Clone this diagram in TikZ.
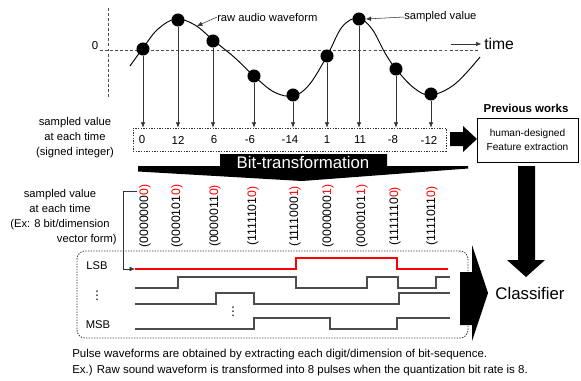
\documentclass[tikz,border=0pt]{standalone}
\usepackage{fontspec}
\setmainfont{Liberation Sans}
\newfontfamily\dejavu{DejaVu Sans}
\usetikzlibrary{arrows.meta,fit}
\begin{document}
\begin{tikzpicture}[x=0.75pt,y=-0.75pt,
  dot/.style={circle,fill=black,inner sep=0pt,minimum size=9.8pt},
  lbl/.style={font=\fontsize{8.4}{11.2}\selectfont},
  num/.style={font=\fontsize{8.6}{10}\selectfont},
  bin/.style={rotate=90,font=\fontsize{9.2}{10}\selectfont,inner sep=0pt},
  arr/.style={draw=black!80,-{Latex[length=4pt,width=3.4pt]}},
  axis/.style={draw=black!70,dash pattern=on 2.2pt off 1.6pt,line width=0.6pt},
  pulse/.style={draw=black!70,line width=0.8pt},
  redpulse/.style={draw=red,line width=0.9pt},
  dbox/.style={draw=black!80,dash pattern=on 1pt off 1pt,line width=0.6pt,inner sep=0pt},
  vd/.style={inner sep=0pt,font=\dejavu\fontsize{9}{10}\selectfont},
]
\useasboundingbox (0,0) rectangle (581,380);

% axes
\draw[axis] (100,50) -- (478,50);
\draw[axis] (108,8) -- (108,99);
\node[lbl,font=\fontsize{8.6}{10}\selectfont] (zero) at (95,46) {0};
\coordinate (tstart) at (451,44);
\node[anchor=west,inner sep=0pt,font=\fontsize{11.8}{13}\selectfont] (time) at (484,44) {time};
\draw[arr] (tstart) -- ([xshift=-2pt]time.west);

% waveform
\draw[line width=0.7pt] plot[smooth,tension=0.6] coordinates {(130,66) (143,48) (158,29) (176,19) (195,25) (213,40) (234,57) (254,76) (274,92) (293,96) (309,85) (327,56) (342,27) (358,18) (372,29) (385,53) (396,69) (414,88) (431,95) (455,84) (480,57)};

% dots
\node[dot] (d1) at (143,49) {};
\node[dot] (d2) at (178,20) {};
\node[dot] (d3) at (213,41) {};
\node[dot] (d4) at (254,76) {};
\node[dot] (d5) at (293,95) {};
\node[dot] (d6) at (327,56) {};
\node[dot] (d7) at (359,19) {};
\node[dot] (d8) at (396,69) {};
\node[dot] (d9) at (431,94) {};

% labels on waveform
\node[lbl,anchor=west,inner sep=0pt] (rawlbl) at (217,17) {raw audio waveform};
\coordinate (rawtip) at (197,26);
\draw[arr] (rawlbl.west) -- (rawtip);
\node[lbl,anchor=west,inner sep=0pt] (samplbl) at (404,17) {sampled value};
\draw[arr] (samplbl.west) -- (d7.east);

% value box
\node[dbox,fit={(133,128) (446,151)}] (valbox) {};
\node[num] (v1) at (142,140) {0};
\node[num] (v2) at (178,140) {12};
\node[num] (v3) at (214,140) {6};
\node[num] (v4) at (250,140) {-6};
\node[num] (v5) at (290,140) {-14};
\node[num] (v6) at (327,140) {1};
\node[num] (v7) at (360,140) {11};
\node[num] (v8) at (393,140) {-8};
\node[num] (v9) at (429,140) {-12};
\foreach \i in {1,...,9}{\draw[arr] (d\i.south) -- (d\i |- valbox.north);}

\node[lbl,align=center] (svlbl) at (75,138) {sampled value\\at each time\\(signed integer)};

% previous works
\node[font=\bfseries\fontsize{8.6}{10}\selectfont] (prevlbl) at (526,108) {Previous works};
\node[draw,line width=0.6pt,fit={(477,118) (578,162)},inner sep=0pt] (hbox) {};
\node[align=center,font=\fontsize{7.6}{10.5}\selectfont] (htext) at (hbox.center) {human-designed\\Feature extraction};
\fill (450,132) -- (463,132) -- (463,126) -- (477,139) -- (463,152) -- (463,146) -- (450,146) -- cycle;

% down arrow to classifier
\fill (518,166) -- (535,166) -- (535,260) -- (545,260) -- (526,277) -- (507,260) -- (518,260) -- cycle;
\node[font=\fontsize{12.6}{14}\selectfont] (cls) at (530,293) {Classifier};

% bit transformation banner
\fill (138,166) -- (220,166) -- (220,154) -- (387,154) -- (387,166) -- (468,166) -- (468,168.5) -- (302,181) -- (138,171.5) -- cycle;
\node[text=white,font=\fontsize{12.6}{14}\selectfont] (bt) at (303,162) {Bit-transformation};

% binary labels
\node[bin] (b1) at (145,216) {(0000000\textcolor{red}{0)}};
\node[bin] (b2) at (177,216) {(0000101\textcolor{red}{0)}};
\node[bin] (b3) at (215,216) {(0000011\textcolor{red}{0)}};
\node[bin] (b4) at (253,216) {(1111101\textcolor{red}{0)}};
\node[bin] (b5) at (295,216) {(1111000\textcolor{red}{1)}};
\node[bin] (b6) at (328,216) {(0000000\textcolor{red}{1)}};
\node[bin] (b7) at (362,216) {(0000101\textcolor{red}{1)}};
\node[bin] (b8) at (395,216) {(1111110\textcolor{red}{0)}};
\node[bin] (b9) at (432,216) {(1111011\textcolor{red}{0)}};

\node[lbl,align=center] (svlbl2) at (60,210) {sampled value\\at each time\\(Ex: 8 bit/dimension};
\node[lbl,anchor=east,inner sep=0pt] (svlbl3) at (117,240) {vector form)};

% pulse box
\node[dbox,fit={(77,251) (468,338)},rounded corners=6pt] (pbox) {};
\node[lbl] (lsb) at (97,266) {LSB};
\node[lbl] (msb) at (98,325) {MSB};
\node[vd] (vd1) at (97,296) {⋮};
\node[vd] (vd2) at (233,312) {⋮};

\coordinate (lsbstart) at (135,269);
\coordinate (bk1) at (123,191);
\coordinate (bk2) at (123,269);
\draw[draw=black!80,line width=0.6pt] (137,191) -- (bk1) -- (bk2);
\draw[arr] (bk2) -- (lsbstart);

\draw[redpulse] (135,269) -- (296,269) -- (296,258) -- (397,258) -- (397,269) -- (448,269);
\draw[pulse] (135,288) -- (178,288) -- (178,277) -- (296,277) -- (296,288) -- (367,288) -- (367,277) -- (398,277) -- (398,288) -- (436,288) -- (436,277) -- (450,277);
\draw[pulse] (135,304) -- (216,304) -- (216,293) -- (254,293) -- (254,304) -- (399,304) -- (399,293) -- (450,293);
\draw[pulse] (135,329) -- (254,329) -- (254,318) -- (330,318) -- (330,329) -- (397,329) -- (397,318) -- (450,318);

% arrow to classifier
\fill (460,272) -- (472,272) -- (472,245) -- (488,293) -- (472,341) -- (472,325) -- (460,325) -- cycle;

% bottom text
\node[anchor=west,inner sep=0pt,align=left,font=\fontsize{8.6}{12}\selectfont] (note) at (72,363) {Pulse waveforms are obtained by extracting each digit/dimension of bit-sequence.\\Ex.) Raw sound waveform is transformed into 8 pulses when the quantization bit rate is 8.};
\end{tikzpicture}
\end{document}
